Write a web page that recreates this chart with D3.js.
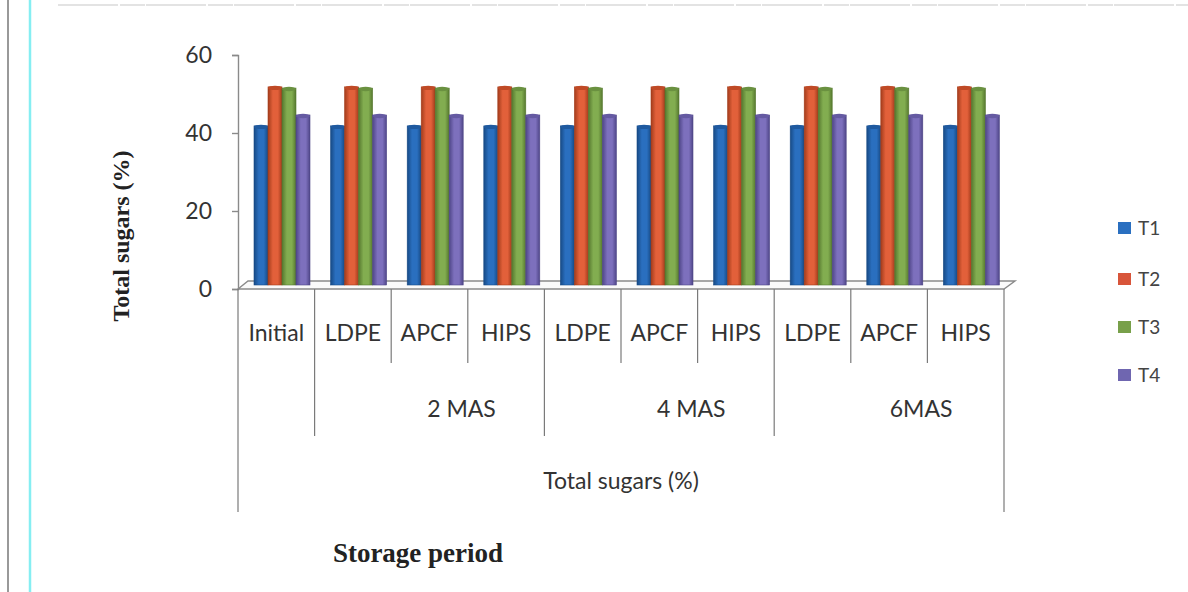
<!DOCTYPE html>
<html>
<head>
<meta charset="utf-8">
<script src="https://cdn.jsdelivr.net/npm/d3@7"></script>
<style>
  html, body { margin: 0; padding: 0; background: #fff; }
  svg { display: block; }
</style>
</head>
<body>
<svg id="chart" width="1188" height="592"></svg>
<script>
// Storage treatments along the x axis (three-level category axis)
const materials = ["Initial", "LDPE", "APCF", "HIPS", "LDPE", "APCF", "HIPS", "LDPE", "APCF", "HIPS"];
const periods = [
  { label: "", from: 0, to: 1 },
  { label: "2 MAS", from: 1, to: 4 },
  { label: "4 MAS", from: 4, to: 7 },
  { label: "6MAS", from: 7, to: 10 }
];
const axisGroupLabel = "Total sugars (%)";
const seriesNames = ["T1", "T2", "T3", "T4"];

// Total sugars (%) per treatment, one array per series
const T1 = [40.8, 40.8, 40.8, 40.8, 40.8, 40.8, 40.8, 40.8, 40.8, 40.8];
const T2 = [50.8, 50.8, 50.8, 50.8, 50.8, 50.8, 50.8, 50.8, 50.8, 50.8];
const T3 = [50.5, 50.5, 50.5, 50.5, 50.5, 50.5, 50.5, 50.5, 50.5, 50.5];
const T4 = [43.6, 43.6, 43.6, 43.6, 43.6, 43.6, 43.6, 43.6, 43.6, 43.6];
const seriesValues = [T1, T2, T3, T4];

const yTicks = [0, 20, 40, 60];

const colors = {
  T1: { mid: "#2a6fbf", edge: "#174a85", cap: "#1f5aa0", legend: "#2a6fc0" },
  T2: { mid: "#e2603a", edge: "#a33c1c", cap: "#c04a26", legend: "#d8553a" },
  T3: { mid: "#82ad50", edge: "#56782f", cap: "#6a9140", legend: "#78a04a" },
  T4: { mid: "#7d70bd", edge: "#4f4688", cap: "#655aa2", legend: "#6f66b0" }
};

const svg = d3.select("#chart");
const defs = svg.append("defs");

// Cylinder-like shading for each series
seriesNames.forEach(s => {
  const g = defs.append("linearGradient").attr("id", "grad-" + s)
    .attr("x1", "0%").attr("x2", "100%").attr("y1", "0%").attr("y2", "0%");
  g.append("stop").attr("offset", "0%").attr("stop-color", colors[s].edge);
  g.append("stop").attr("offset", "35%").attr("stop-color", colors[s].mid);
  g.append("stop").attr("offset", "70%").attr("stop-color", colors[s].mid);
  g.append("stop").attr("offset", "100%").attr("stop-color", colors[s].edge);
});

// Page frame: outer gray rule, cyan margin rule, faint top rule
svg.append("line").attr("x1", 8).attr("x2", 8).attr("y1", 0).attr("y2", 592)
  .attr("stroke", "#777").attr("stroke-width", 1.5);
svg.append("line").attr("x1", 30).attr("x2", 30).attr("y1", 0).attr("y2", 592)
  .attr("stroke", "#86eef2").attr("stroke-width", 2.5);
svg.append("line").attr("x1", 58).attr("x2", 1188).attr("y1", 5).attr("y2", 5)
  .attr("stroke", "#dadada").attr("stroke-width", 1.5).attr("stroke-dasharray", "60 2 25 1");

// Scales
const plotLeft = 238, plotRight = 1004;
const x0 = d3.scaleBand().domain(d3.range(materials.length)).range([plotLeft, plotRight]).padding(0);
const x1 = d3.scaleBand().domain(seriesNames).range([16, 72]).padding(0);
const y = d3.scaleLinear().domain([0, 60]).range([289, 55]);

// 3D depth of the floor
const depthX = 10, depthY = -8;
const barDY = -4;

// Floor
const floorY = y(0);
svg.append("path")
  .attr("d", `M${plotLeft},${floorY} L${plotLeft + depthX},${floorY + depthY} L${plotRight + depthX + 1},${floorY + depthY} L${plotRight},${floorY} Z`)
  .attr("fill", "#fafafa").attr("stroke", "#8a8a8a").attr("stroke-width", 1.4);

// Y axis
const yAxis = d3.axisLeft(y).tickValues(yTicks).tickSize(6).tickPadding(20);
const yg = svg.append("g").attr("transform", `translate(${plotLeft},0)`).call(yAxis);
yg.select(".domain").attr("stroke", "#8a8a8a").attr("stroke-width", 1.4);
yg.selectAll(".tick line").attr("stroke", "#8a8a8a").attr("stroke-width", 1.4);
yg.selectAll(".tick text")
  .attr("font-family", "Lato, 'Open Sans', sans-serif")
  .attr("font-size", 23).attr("fill", "#333");

// Bars
const groups = svg.append("g").selectAll("g")
  .data(materials.map((m, i) => i))
  .join("g")
  .attr("transform", i => `translate(${x0(i)},0)`);

groups.each(function(i) {
  const g = d3.select(this);
  seriesNames.forEach((s, k) => {
    const v = seriesValues[k][i];
    const bx = x1(s);
    const bw = x1.bandwidth();
    const top = y(v) + barDY;
    const base = y(0) + barDY;
    g.append("rect")
      .attr("x", bx).attr("y", top)
      .attr("width", bw).attr("height", base - top)
      .attr("fill", `url(#grad-${s})`)
      .attr("stroke", colors[s].edge).attr("stroke-width", 0.6);
    g.append("ellipse")
      .attr("cx", bx + bw / 2).attr("cy", top + 1)
      .attr("rx", bw / 2).attr("ry", 2.2)
      .attr("fill", colors[s].cap);
  });
});

// Category axis: separator lines below the floor
const lineColor = "#7a7a7a";
const boundaries = d3.range(materials.length + 1).map(i => i === materials.length ? plotRight : x0(i));
boundaries.forEach((bx, i) => {
  let bottom = 363;
  if (periods.some(p => p.from === i || p.to === i)) bottom = 436;
  if (i === 0 || i === materials.length) bottom = 512;
  svg.append("line").attr("x1", bx).attr("x2", bx).attr("y1", floorY).attr("y2", bottom)
    .attr("stroke", lineColor).attr("stroke-width", 1.2);
});

const labelFont = "Lato, 'Open Sans', sans-serif";
svg.append("g").selectAll("text")
  .data(materials)
  .join("text")
  .attr("x", (d, i) => x0(i) + x0.bandwidth() / 2)
  .attr("y", 341)
  .attr("text-anchor", "middle")
  .attr("font-family", labelFont).attr("font-size", 23).attr("fill", "#333")
  .text(d => d);

svg.append("g").selectAll("text")
  .data(periods.filter(p => p.label))
  .join("text")
  .attr("x", p => (x0(p.from) + (p.to === materials.length ? plotRight : x0(p.to))) / 2 + 32)
  .attr("y", 417)
  .attr("text-anchor", "middle")
  .attr("font-family", labelFont).attr("font-size", 23).attr("fill", "#333")
  .text(p => p.label);

svg.append("text")
  .attr("x", (plotLeft + plotRight) / 2).attr("y", 489)
  .attr("text-anchor", "middle")
  .attr("font-family", labelFont).attr("font-size", 23).attr("fill", "#333")
  .text(axisGroupLabel);

// Axis titles
svg.append("text")
  .attr("x", 418).attr("y", 562)
  .attr("text-anchor", "middle")
  .attr("font-family", "'Liberation Serif', 'Times New Roman', serif")
  .attr("font-weight", "bold").attr("font-size", 27).attr("fill", "#222")
  .text("Storage period");

svg.append("text")
  .attr("transform", "translate(129,236) rotate(-90)")
  .attr("text-anchor", "middle")
  .attr("font-family", "'Liberation Serif', 'Times New Roman', serif")
  .attr("font-weight", "bold").attr("font-size", 24).attr("fill", "#222")
  .text("Total sugars (%)");

// Legend
const legendY = [228, 279, 327, 375];
const legend = svg.append("g").selectAll("g")
  .data(seriesNames)
  .join("g")
  .attr("transform", (d, i) => `translate(1118,${legendY[i]})`);
legend.append("rect")
  .attr("x", 0).attr("y", -6).attr("width", 13).attr("height", 12)
  .attr("fill", d => colors[d].legend);
legend.append("text")
  .attr("x", 20).attr("y", 7)
  .attr("font-family", labelFont).attr("font-size", 19).attr("fill", "#444")
  .text(d => d);
</script>
</body>
</html>
